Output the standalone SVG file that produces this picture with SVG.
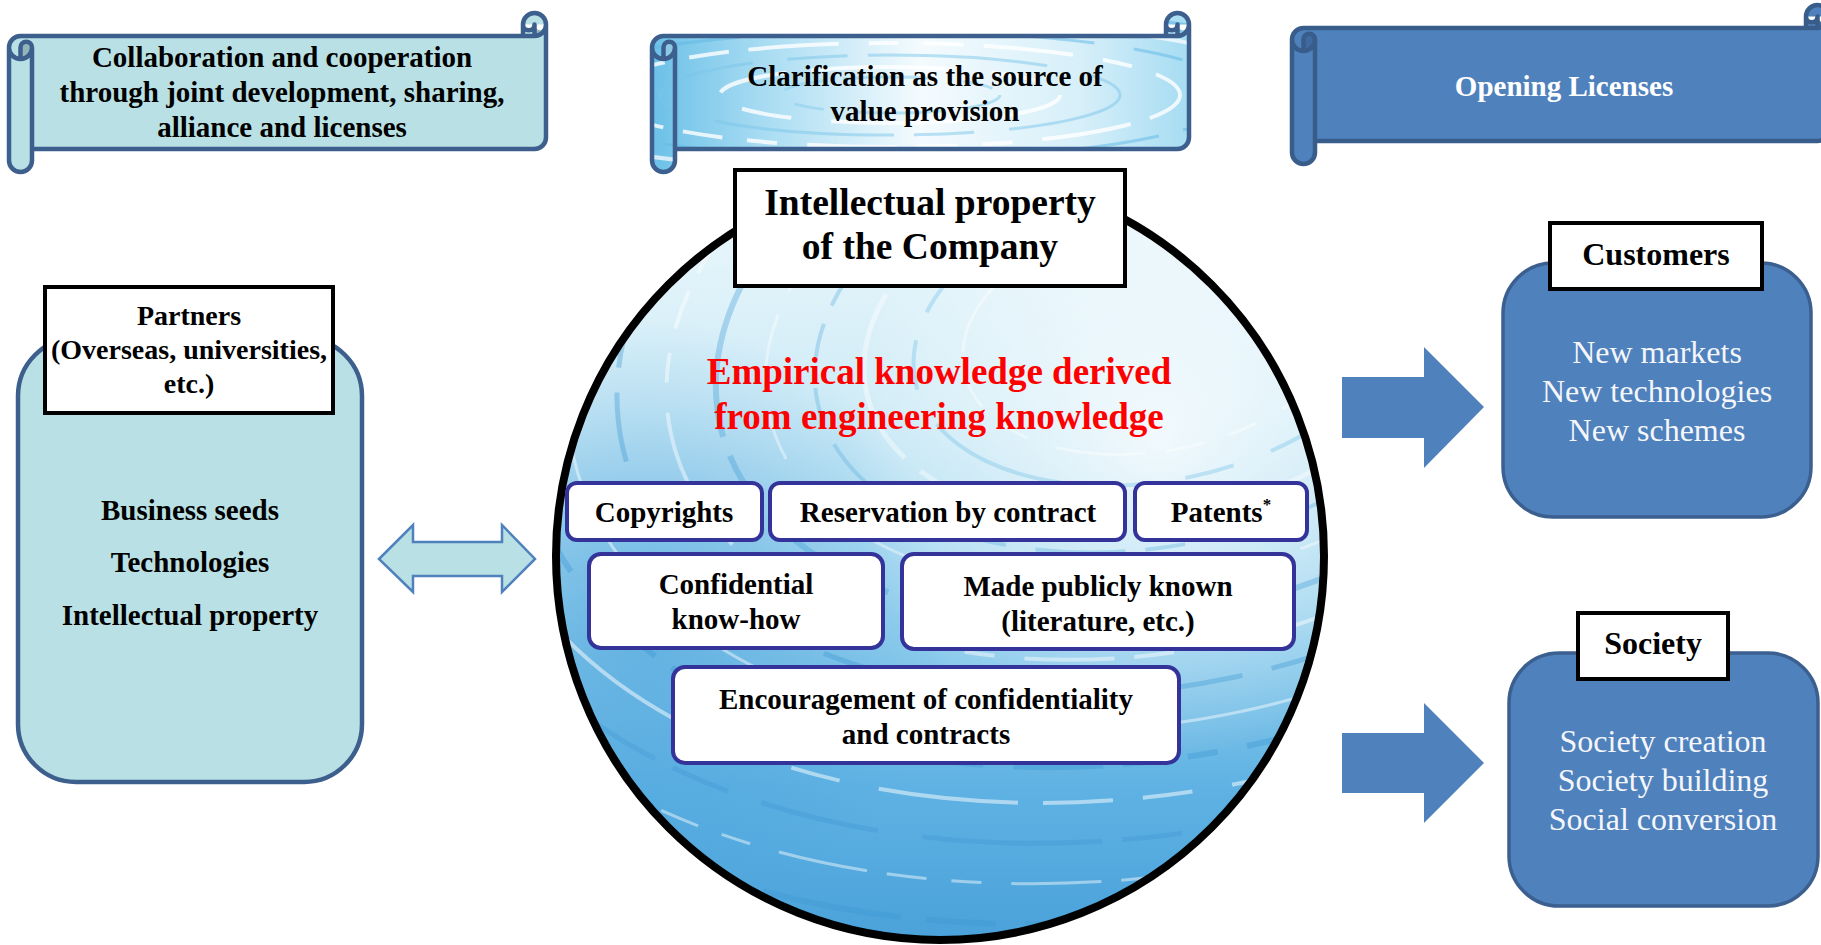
<svg xmlns="http://www.w3.org/2000/svg" xmlns:xlink="http://www.w3.org/1999/xlink" width="1821" height="945" viewBox="0 0 1821 945">
<style>
text { font-family: "Liberation Serif", "Times New Roman", serif; text-anchor: middle; }
.bd { font-weight: bold; fill: #000; }
.s29 { font-size: 29px; }
.s28 { font-size: 28px; }
.s37 { font-size: 37.5px; }
.s32 { font-size: 32px; }
.red { fill: #ff0000; font-weight: bold; font-size: 37px; }
.wt { fill: #f4f6fa; font-size: 32px; }
.lbl { fill: #ffffff; stroke: #000000; stroke-width: 4; }
.kb { fill: #ffffff; stroke: #333399; stroke-width: 4; }
.arrowR { fill: #4f81bd; }
.bluebox { fill: #4f81bd; stroke: #3b5f8e; stroke-width: 3.5; }
.tealbox { fill: #b9e0e4; stroke: #3c5f8e; stroke-width: 4.5; }
.sline { fill: none; stroke-width: 4.5; stroke-linejoin: round; }
.wline { fill: none; stroke: #ffffff; }
.st1 { stroke-dasharray: 70 25 140 40 50 30; }
.st2 { stroke-dasharray: 120 35 60 20 180 45; }
.st3 { stroke-dasharray: 40 20 90 30 30 25; }
</style>
<defs>
  <path id="scBody" d="M546,24.5 A11.5,11.5 0 0 1 534.5,36 L534.5,24.5 A5.75,5.75 0 0 1 523,24.5 L523,36 L20.5,36 A11.5,11.5 0 0 0 9,47.5 L9,160.5 A11.5,11.5 0 0 0 32,160.5 L32,149 L534.5,149 A11.5,11.5 0 0 0 546,137.5 Z M523,24.5 A11.5,11.5 0 0 1 546,24.5 Z"/>
  <path id="scDark" d="M534.5,36 A11.5,11.5 0 0 0 546,24.5 A5.75,5.75 0 0 1 534.5,24.5 Z M20.5,59 A11.5,11.5 0 0 0 32,47.5 A5.75,5.75 0 0 0 20.5,47.5 Z"/>
  <path id="scLine" d="M9,47.5 A11.5,11.5 0 0 1 20.5,36 L523,36 L523,24.5 A11.5,11.5 0 0 1 546,24.5 L546,137.5 A11.5,11.5 0 0 1 534.5,149 L32,149 L32,160.5 A11.5,11.5 0 0 1 9,160.5 Z M523,36 L534.5,36 A11.5,11.5 0 0 0 546,24.5 M534.5,36 L534.5,24.5 A5.75,5.75 0 0 1 523,24.5 M20.5,59 L20.5,47.5 A5.75,5.75 0 0 1 32,47.5 A11.5,11.5 0 0 1 9,47.5 M32,47.5 L32,149"/>
  <linearGradient id="water2" x1="0" y1="0" x2="1" y2="0">
    <stop offset="0" stop-color="#6cc0e8"/>
    <stop offset="0.2" stop-color="#a6dbf2"/>
    <stop offset="0.5" stop-color="#f4fbfe"/>
    <stop offset="0.8" stop-color="#d6eff9"/>
    <stop offset="1" stop-color="#a6dcf2"/>
  </linearGradient>
  <linearGradient id="waterC" x1="0" y1="0" x2="0" y2="1">
    <stop offset="0" stop-color="#eef8fc"/>
    <stop offset="0.3" stop-color="#d0ecf7"/>
    <stop offset="0.55" stop-color="#9ed5ef"/>
    <stop offset="0.8" stop-color="#5fb2e3"/>
    <stop offset="1" stop-color="#4aa2da"/>
  </linearGradient>
  <radialGradient id="hiC" cx="1160" cy="440" r="320" gradientUnits="userSpaceOnUse">
    <stop offset="0" stop-color="#ffffff" stop-opacity="0.75"/>
    <stop offset="1" stop-color="#ffffff" stop-opacity="0"/>
  </radialGradient>
  <radialGradient id="loC" cx="650" cy="620" r="300" gradientUnits="userSpaceOnUse">
    <stop offset="0" stop-color="#3f9bd8" stop-opacity="0.55"/>
    <stop offset="1" stop-color="#3f9bd8" stop-opacity="0"/>
  </radialGradient>
  <clipPath id="clipCircle"><circle cx="940" cy="556" r="384"/></clipPath>
  <clipPath id="clipS2"><use xlink:href="#scBody" transform="translate(643,0)"/></clipPath>
</defs>

<g id="scroll-collaboration">
  <use xlink:href="#scBody" fill="#b9e0e4"/>
  <use xlink:href="#scDark" fill="#93b4b8"/>
  <use xlink:href="#scLine" class="sline" stroke="#3c5f8e"/>
  <text class="bd s29"><tspan x="282" y="67">Collaboration and cooperation</tspan><tspan x="282" y="102">through joint development, sharing,</tspan><tspan x="282" y="137">alliance and licenses</tspan></text>
</g>

<g id="scroll-clarification">
  <use xlink:href="#scBody" transform="translate(643,0)" fill="url(#water2)"/>
  <g clip-path="url(#clipS2)" fill="none">
    <ellipse cx="890" cy="95" rx="110" ry="18" stroke="#8fd0ee" stroke-width="3" class="st3" stroke-opacity="0.6"/>
    <ellipse cx="890" cy="95" rx="170" ry="28" stroke="#ffffff" stroke-width="4" class="st1" stroke-opacity="0.8"/>
    <ellipse cx="890" cy="95" rx="230" ry="40" stroke="#7cc6ea" stroke-width="3" class="st2" stroke-opacity="0.5"/>
    <ellipse cx="890" cy="95" rx="290" ry="52" stroke="#ffffff" stroke-width="4" class="st3" stroke-opacity="0.8"/>
    <ellipse cx="890" cy="95" rx="350" ry="64" stroke="#5fb8e6" stroke-width="3" class="st1" stroke-opacity="0.5"/>
    <ellipse cx="890" cy="95" rx="410" ry="76" stroke="#ffffff" stroke-width="4" class="st2" stroke-opacity="0.7"/>
    <ellipse cx="890" cy="95" rx="470" ry="90" stroke="#4fb0e2" stroke-width="4" class="st3" stroke-opacity="0.5"/>
    <ellipse cx="890" cy="95" rx="530" ry="104" stroke="#ffffff" stroke-width="3" class="st1" stroke-opacity="0.7"/>
  </g>
  <use xlink:href="#scDark" transform="translate(643,0)" fill="#8cc8e4"/>
  <use xlink:href="#scLine" transform="translate(643,0)" class="sline" stroke="#3c5f8e"/>
  <text class="bd s29"><tspan x="925" y="86">Clarification as the source of</tspan><tspan x="925" y="121">value provision</tspan></text>
</g>

<g id="scroll-opening">
  <use xlink:href="#scBody" transform="translate(1283,-8)" fill="#4f81bd"/>
  <use xlink:href="#scDark" transform="translate(1283,-8)" fill="#3f6aa0"/>
  <use xlink:href="#scLine" transform="translate(1283,-8)" class="sline" stroke="#385d8a"/>
  <text class="s29" font-weight="bold" fill="#ffffff" x="1564" y="96">Opening Licenses</text>
</g>

<g id="partners">
  <rect class="tealbox" x="18" y="338" width="344" height="444" rx="58" ry="58"/>
  <rect class="lbl" x="45" y="287" width="288" height="126"/>
  <text class="bd s28"><tspan x="189" y="325">Partners</tspan><tspan x="189" y="359">(Overseas, universities,</tspan><tspan x="189" y="393">etc.)</tspan></text>
  <text class="bd s29"><tspan x="190" y="520">Business seeds</tspan><tspan x="190" y="572">Technologies</tspan><tspan x="190" y="625">Intellectual property</tspan></text>
</g>

<g id="company-ip">
  <circle cx="940" cy="556" r="384" fill="url(#waterC)"/>
  <g clip-path="url(#clipCircle)">
    <rect x="550" y="170" width="780" height="780" fill="url(#loC)"/>
    <rect x="550" y="170" width="780" height="780" fill="url(#hiC)"/>
    <g transform="rotate(-12 1160 330)" fill="none">
      <ellipse cx="1160" cy="330" rx="200" ry="120" stroke="#ffffff" stroke-opacity="0.4" stroke-width="3" class="st3"/>
      <ellipse cx="1160" cy="330" rx="250" ry="150" stroke="#6cbde6" stroke-opacity="0.35" stroke-width="4" class="st1"/>
      <ellipse cx="1160" cy="330" rx="300" ry="185" stroke="#ffffff" stroke-opacity="0.4" stroke-width="5" class="st2"/>
      <ellipse cx="1160" cy="330" rx="350" ry="215" stroke="#5aaee0" stroke-opacity="0.35" stroke-width="4" class="st3"/>
      <ellipse cx="1160" cy="330" rx="400" ry="250" stroke="#ffffff" stroke-opacity="0.4" stroke-width="3" class="st1"/>
      <ellipse cx="1160" cy="330" rx="450" ry="285" stroke="#3f9bd8" stroke-opacity="0.35" stroke-width="6" class="st2"/>
      <ellipse cx="1160" cy="330" rx="500" ry="320" stroke="#ffffff" stroke-opacity="0.45" stroke-width="4" class="st3"/>
      <ellipse cx="1160" cy="330" rx="550" ry="355" stroke="#3a94d2" stroke-opacity="0.35" stroke-width="5" class="st1"/>
      <ellipse cx="1160" cy="330" rx="600" ry="390" stroke="#ffffff" stroke-opacity="0.45" stroke-width="3" class="st2"/>
      <ellipse cx="1160" cy="330" rx="650" ry="425" stroke="#3a94d2" stroke-opacity="0.35" stroke-width="6" class="st3"/>
      <ellipse cx="1160" cy="330" rx="700" ry="460" stroke="#ffffff" stroke-opacity="0.5" stroke-width="4" class="st1"/>
      <ellipse cx="1160" cy="330" rx="750" ry="500" stroke="#3a94d2" stroke-opacity="0.3" stroke-width="5" class="st2"/>
      <ellipse cx="1160" cy="330" rx="800" ry="540" stroke="#ffffff" stroke-opacity="0.45" stroke-width="3" class="st3"/>
      <ellipse cx="1160" cy="330" rx="850" ry="580" stroke="#3a94d2" stroke-opacity="0.3" stroke-width="6" class="st1"/>
      <ellipse cx="1160" cy="330" rx="900" ry="620" stroke="#ffffff" stroke-opacity="0.45" stroke-width="4" class="st2"/>
      <ellipse cx="1160" cy="330" rx="950" ry="660" stroke="#ffffff" stroke-opacity="0.4" stroke-width="3" class="st3"/>
    </g>
  </g>
  <circle cx="940" cy="556" r="384" fill="none" stroke="#000000" stroke-width="8"/>
  <rect class="lbl" x="735" y="170" width="390" height="116"/>
  <text class="bd s37"><tspan x="930" y="215">Intellectual property</tspan><tspan x="930" y="259">of the Company</tspan></text>
  <text class="red"><tspan x="939" y="384">Empirical knowledge derived</tspan><tspan x="939" y="429">from engineering knowledge</tspan></text>
</g>

<g id="copyrights">
  <rect class="kb" x="567" y="483" width="195" height="57" rx="10"/>
  <text class="bd s29" x="664" y="522">Copyrights</text>
</g>
<g id="reservation">
  <rect class="kb" x="770" y="483" width="355" height="57" rx="10"/>
  <text class="bd s29" x="948" y="522">Reservation by contract</text>
</g>
<g id="patents">
  <rect class="kb" x="1135" y="483" width="172" height="57" rx="10"/>
  <text class="bd s29" x="1221" y="522">Patents<tspan font-size="17" dy="-12">*</tspan></text>
</g>
<g id="confidential">
  <rect class="kb" x="589" y="554" width="294" height="94" rx="12"/>
  <text class="bd s29"><tspan x="736" y="594">Confidential</tspan><tspan x="736" y="629">know-how</tspan></text>
</g>
<g id="publicly-known">
  <rect class="kb" x="902" y="554" width="392" height="95" rx="12"/>
  <text class="bd s29"><tspan x="1098" y="596">Made publicly known</tspan><tspan x="1098" y="631">(literature, etc.)</tspan></text>
</g>
<g id="encouragement">
  <rect class="kb" x="673" y="667" width="506" height="96" rx="12"/>
  <text class="bd s29"><tspan x="926" y="709">Encouragement of confidentiality</tspan><tspan x="926" y="744">and contracts</tspan></text>
</g>

<g id="customers">
  <rect class="bluebox" x="1503" y="263" width="308" height="254" rx="50"/>
  <rect class="lbl" x="1550" y="223" width="212" height="66"/>
  <text class="bd s32" x="1656" y="265">Customers</text>
  <text class="wt"><tspan x="1657" y="363">New markets</tspan><tspan x="1657" y="402">New technologies</tspan><tspan x="1657" y="441">New schemes</tspan></text>
</g>

<g id="society">
  <rect class="bluebox" x="1509" y="653" width="309" height="253" rx="50"/>
  <rect class="lbl" x="1578" y="613" width="150" height="66"/>
  <text class="bd s32" x="1653" y="654">Society</text>
  <text class="wt"><tspan x="1663" y="752">Society creation</tspan><tspan x="1663" y="791">Society building</tspan><tspan x="1663" y="830">Social conversion</tspan></text>
</g>

<g id="connectors">
  <path d="M379,559 L413,525 L413,542 L502,542 L502,525 L535,559 L502,592 L502,576 L413,576 L413,592 Z" fill="#b9e0e4" stroke="#4f81bd" stroke-width="2.5" stroke-linejoin="miter"/>
  <path class="arrowR" d="M1342,377 L1424,377 L1424,347 L1484,407 L1424,468 L1424,438 L1342,438 Z"/>
  <path class="arrowR" d="M1342,733 L1424,733 L1424,703 L1484,763 L1424,823 L1424,793 L1342,793 Z"/>
</g>
</svg>
